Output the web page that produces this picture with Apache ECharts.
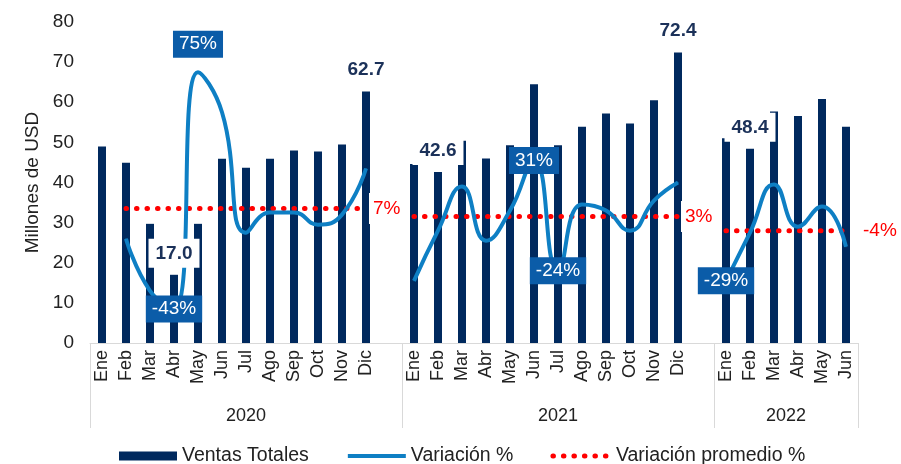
<!DOCTYPE html>
<html>
<head>
<meta charset="utf-8">
<style>
  html, body { margin: 0; padding: 0; background: #fff; }
  #chart { width: 901px; height: 464px; }
</style>
<script src="https://cdn.jsdelivr.net/npm/echarts@6/dist/echarts.min.js"></script>
</head>
<body>
<div id="chart"></div>
<script>
const anios = ['2020', '2021', '2022']
const meses = ['Ene', 'Feb', 'Mar', 'Abr', 'May', 'Jun', 'Jul', 'Ago', 'Sep', 'Oct', 'Nov', 'Dic']

// Ventas Totales (millones de USD)
const ventas2020 = [49.0, 44.9, 29.7, 17.0, 29.7, 45.9, 43.7, 45.9, 48.0, 47.7, 49.5, 62.7]
const ventas2021 = [44.6, 42.6, 50.4, 46.0, 49.3, 64.5, 49.3, 53.9, 57.2, 54.7, 60.5, 72.4]
const ventas2022 = [51.0, 48.4, 57.7, 56.6, 60.8, 53.9]

// Variación % mensual
const variacion2020 = [null, -8, -34, -43, 75, 55, -5, 5, 5, -1, 4, 27]
const variacion2021 = [-29, -4, 18, -9, 6, 31, -24, 9, 6, -4, 11, 20]
const variacion2022 = [-29, -5, 19, -2, 8, -12]

// Variación promedio % por año
const promedios = [7, 3, -4]

// meses que llevan etiqueta
const etiquetasVentas = [[3, 11], [1, 11], [1]]
const etiquetasVariacion = [[3, 4], [5, 6], [0]]

const ventasPorAnio = [ventas2020, ventas2021, ventas2022]
const variacionPorAnio = [variacion2020, variacion2021, variacion2022]

const NAVY = '#00295e'
const BLUE = '#0e7fc4'
const BOX = '#0b5ca8'
const FONT = 'Liberation Sans, Arial, sans-serif'

// shared category axis with one empty slot between years
const categorias = []
const ventas = []
const ventasEtiquetas = []
const variacion = []
const inicioAnio = []
ventasPorAnio.forEach((vals, a) => {
  inicioAnio.push(categorias.length)
  vals.forEach((v, m) => {
    categorias.push(meses[m])
    ventas.push(v)
    ventasEtiquetas.push(etiquetasVentas[a].includes(m) ? { value: v, label: { show: true } } : v)
    const p = variacionPorAnio[a][m]
    if (p !== null && etiquetasVariacion[a].includes(m)) {
      variacion.push({ value: p, label: { show: true, position: p > 60 ? 'top' : 'inside' } })
    } else {
      variacion.push(p)
    }
  })
  if (a < ventasPorAnio.length - 1) {
    categorias.push('')
    ventas.push(null)
    ventasEtiquetas.push(null)
    variacion.push(null)
  }
})
inicioAnio.push(categorias.length)

const seriesPromedio = promedios.map((p, a) => {
  const data = categorias.map(() => null)
  variacionPorAnio[a].forEach((v, m) => {
    if (v !== null) data[inicioAnio[a] + m] = p
  })
  return {
    name: 'Variación promedio %',
    type: 'line',
    yAxisIndex: 1,
    data: data,
    symbol: 'none',
    z: 3,
    lineStyle: { color: '#ff0000', width: 5, type: [0.5, 10], cap: 'round' },
    itemStyle: { color: '#ff0000' },
    endLabel: {
      show: true,
      formatter: p + '%',
      color: '#ff0000',
      fontSize: 19,
      fontFamily: FONT,
      backgroundColor: '#fff',
      padding: [6, 4],
      distance: a === promedios.length - 1 ? 13 : 3
    }
  }
})

// year group boundaries and centres, on a value axis over the same slots
const centrosAnio = anios.map((_, a) => (inicioAnio[a] + inicioAnio[a + 1]) / 2)

const chart = echarts.init(document.getElementById('chart'))
chart.setOption({
  animation: false,
  textStyle: { fontFamily: FONT },
  grid: { left: 90, right: 43, top: 22, bottom: 121 },
  legend: {
    left: 114,
    top: 441,
    itemWidth: 58,
    itemHeight: 9,
    itemGap: 37,
    textStyle: { fontSize: 19.5, color: '#222', fontFamily: FONT },
    data: [
      { name: 'Ventas Totales', icon: 'rect' },
      { name: 'Variación %', itemStyle: { opacity: 0 }, lineStyle: { width: 4 } },
      { name: 'Variación promedio %', itemStyle: { opacity: 0 }, lineStyle: { width: 5 } }
    ]
  },
  xAxis: [
    {
      type: 'category',
      data: categorias,
      axisLine: { onZero: false, lineStyle: { color: '#d9d9d9', width: 1 } },
      axisTick: { show: false },
      axisLabel: { interval: 0, rotate: 90, fontSize: 18, color: '#222', margin: 7 }
    },
    {
      type: 'value',
      min: 0,
      max: categorias.length,
      position: 'bottom',
      axisLine: { show: false, onZero: false },
      splitLine: { show: false },
      axisTick: {
        show: true,
        length: 85,
        customValues: inicioAnio,
        lineStyle: { color: '#d9d9d9' }
      },
      axisLabel: {
        show: true,
        customValues: centrosAnio,
        margin: 64,
        fontSize: 18,
        color: '#222',
        formatter: v => anios[centrosAnio.indexOf(v)]
      }
    }
  ],
  yAxis: [
    {
      type: 'value',
      min: 0,
      max: 80,
      interval: 10,
      name: 'Millones de USD',
      nameLocation: 'middle',
      nameRotate: 90,
      nameGap: 39,
      nameTextStyle: { fontSize: 19, color: '#222' },
      axisLine: { show: false },
      axisTick: { show: false },
      splitLine: { show: false },
      axisLabel: { fontSize: 19, color: '#222', margin: 16 }
    },
    {
      type: 'value',
      min: -60,
      max: 100,
      show: false,
      splitLine: { show: false }
    }
  ],
  series: [
    {
      name: 'Ventas Totales',
      type: 'bar',
      data: ventas,
      barWidth: 8,
      itemStyle: { color: NAVY }
    },
    {
      name: 'Variación %',
      type: 'line',
      yAxisIndex: 1,
      data: variacion,
      smooth: 0.5,
      symbol: 'circle',
      symbolSize: 1,
      showSymbol: true,
      showAllSymbol: true,
      z: 4,
      lineStyle: { color: BLUE, width: 4 },
      itemStyle: { color: BLUE },
      label: {
        show: false,
        formatter: '{c}%',
        color: '#fff',
        fontSize: 19,
        backgroundColor: BOX,
        padding: [4, 6],
        distance: 14
      }
    },
    ...seriesPromedio,
    {
      // transparent copy of the bars that carries the value labels above the line
      name: 'Ventas etiquetas',
      type: 'bar',
      data: ventasEtiquetas,
      barWidth: 8,
      barGap: '-100%',
      z: 10,
      silent: true,
      itemStyle: { color: 'rgba(0,0,0,0)' },
      label: {
        show: false,
        position: 'top',
        distance: 7,
        formatter: p => p.value.toFixed(1),
        color: '#1b3159',
        fontWeight: 'bold',
        fontSize: 19,
        backgroundColor: '#fff',
        padding: [5, 7]
      }
    }
  ]
})
</script>
</body>
</html>
